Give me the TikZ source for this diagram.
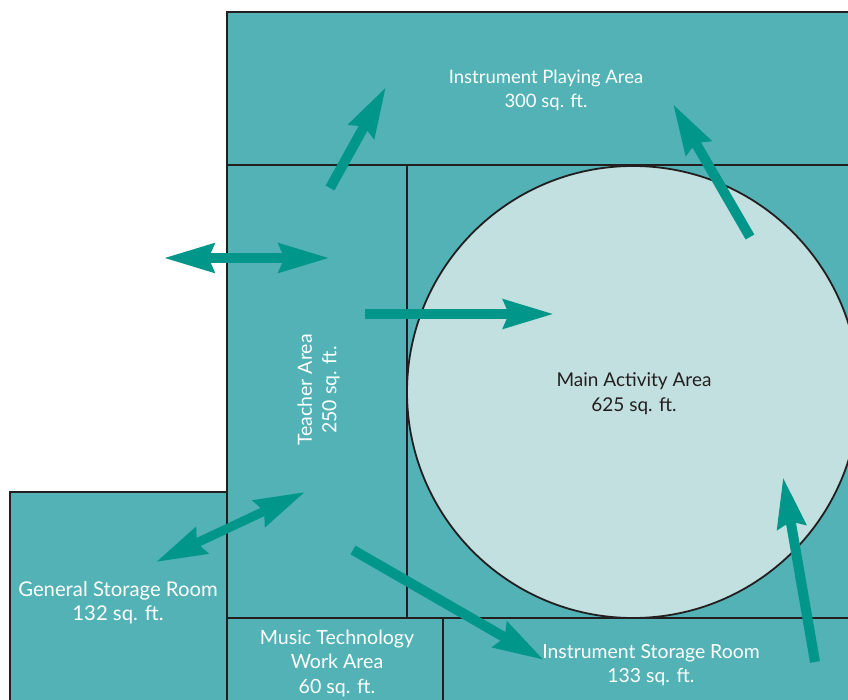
\documentclass[tikz,border=0pt]{standalone}
\usepackage{fontspec}
\setmainfont{Lato}
\usetikzlibrary{arrows.meta}

\definecolor{roomfill}{HTML}{52B2B5}
\definecolor{circfill}{HTML}{C3E0E0}
\definecolor{arrowcol}{HTML}{00968A}
\definecolor{wallcol}{HTML}{231F20}

\begin{document}
\begin{tikzpicture}[x=1pt, y=-1pt, line join=miter]
	\tikzset{
		room/.style={draw=wallcol, fill=roomfill, line width=1.8pt},
		flow/.style={draw=arrowcol, line width=10pt, -{Stealth[length=50pt, width=28pt, inset=5pt]}},
		flowboth/.style={draw=arrowcol, line width=10pt, {Stealth[length=50pt, width=28pt, inset=5pt]}-{Stealth[length=50pt, width=28pt, inset=5pt]}},
		lab/.style={text=white, align=center, font=\fontsize{19}{24.5}\selectfont},
	}
	
	\useasboundingbox (0,0) rectangle (848,700);
	
	% rooms
	\draw[room] (227,12) rectangle (870,165);
	\draw[room] (227,165) rectangle (407,618);
	\draw[room] (407,165) rectangle (870,618);
	\draw[room] (10,492) rectangle (227,720);
	\draw[room] (227,618) rectangle (443,720);
	\draw[room] (443,618) rectangle (870,720);
	\draw[room, fill=circfill] (633,392) circle (226);
	
	% labels
	\node[lab, font=\fontsize{18.5}{23.5}\selectfont] (playing) at (546,90.5) {Instrument Playing Area\\300 sq. ft.};
	\node[lab, text=wallcol] (mainarea) at (634,393.5) {Main Activity Area\\625 sq. ft.};
	\node[lab, rotate=90, font=\fontsize{19.5}{24.5}\selectfont] (teacher) at (318.5,390) {Teacher Area\\250 sq. ft.};
	\node[lab, font=\fontsize{20.3}{24.5}\selectfont] (general) at (118,603) {General Storage Room\\132 sq. ft.};
	\node[lab, font=\fontsize{19.6}{24.5}\selectfont] (music) at (337,663) {Music Technology\\Work Area\\60 sq. ft.};
	\node[lab, font=\fontsize{19.4}{24.5}\selectfont] (storage) at (651,665) {Instrument Storage Room\\133 sq. ft.};
	
	% arrow ends
	\coordinate (aA) at (330,188);
	\coordinate (aB) at (386,87);
	\coordinate (bA) at (163.5,258);
	\coordinate (bB) at (329.5,258);
	\coordinate (cA) at (365,314);
	\coordinate (cB) at (554,314);
	\coordinate (dA) at (750,237);
	\coordinate (dB) at (673,104);
	\coordinate (eA) at (815,662);
	\coordinate (eB) at (783,477);
	\coordinate (fA) at (353,550);
	\coordinate (fB) at (544,660);
	\coordinate (gA) at (156,562);
	\coordinate (gB) at (305,492);
	
	\draw[flow] (aA) -- (aB);
	\draw[flowboth] (bA) -- (bB);
	\draw[flow] (cA) -- (cB);
	\draw[flow] (dA) -- (dB);
	\draw[flow] (eA) -- (eB);
	\draw[flow] (fA) -- (fB);
	\draw[flowboth, line width=9pt] (gA) -- (gB);
	
\end{tikzpicture}
\end{document}
